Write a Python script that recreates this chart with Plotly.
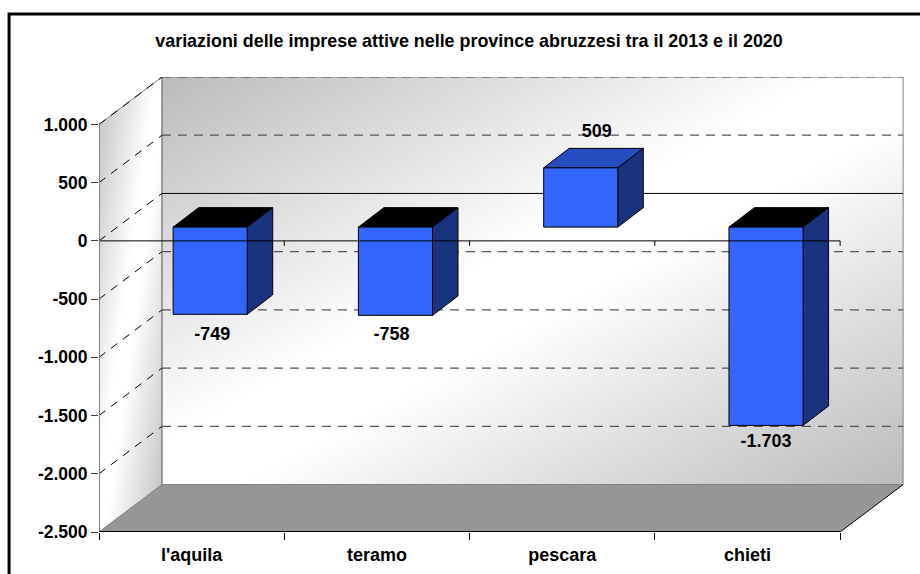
import base64
import plotly.graph_objects as go

TITLE = "variazioni delle imprese attive nelle province abruzzesi tra il 2013 e il 2020"
CATEGORIES = ["l'aquila", "teramo", "pescara", "chieti"]
VALUES = [-749, -758, 509, -1703]
VALUE_LABELS = ["-749", "-758", "509", "-1.703"]
TICK_VALUES = [1000, 500, 0, -500, -1000, -1500, -2000, -2500]
TICK_LABELS = ["1.000", "500", "0", "-500", "-1.000", "-1.500", "-2.000", "-2.500"]

# figure geometry (pixels)
W, H = 920, 574
L, R, T, B = 98.5, 16, 76.5, 42
PX_X = 185.4            # pixels per category
PX_Y = 408 / 3500       # pixels per value unit
PLOT_W, PLOT_H = W - L - R, H - T - B
Y_MIN = -2500
Y_MAX = Y_MIN + PLOT_H / PX_Y
X_MAX = PLOT_W / PX_X
N = len(CATEGORIES)

# 3D projection, in data units
WALL_DX, WALL_DY = 63 / PX_X, 47.5 / PX_Y
BAR_OFF_DY = 13.8 / PX_Y
BAR_LEFT, BAR_WIDTH = 0.4, 0.4
BAR_DX, BAR_DY = 25.5 / PX_X, 19.5 / PX_Y
# label offsets from the bar's front centre / outer end, pixels
LABEL_DX = [2, -4, 16, 0]
LABEL_DY = [-21, -20, 35, -17]

FRONT, SIDE, TOP_POS, TOP_NEG = "#3366FF", "#1A337F", "#264DBF", "#000000"
WALL_EDGE = "#808080"


def grad_svg(points, c_edge):
    pts = " ".join(f"{x:.3f},{y:.3f}" for x, y in points)
    svg = (
        '<svg xmlns="http://www.w3.org/2000/svg" width="800" height="800" '
        'viewBox="0 0 100 100" preserveAspectRatio="none">'
        '<defs><linearGradient id="g" gradientUnits="userSpaceOnUse" x1="0" y1="0" x2="100" y2="100">'
        f'<stop offset="0" stop-color="{c_edge}"/><stop offset="0.45" stop-color="#ffffff"/>'
        f'<stop offset="0.55" stop-color="#ffffff"/>'
        f'<stop offset="1" stop-color="{c_edge}"/></linearGradient></defs>'
        f'<polygon points="{pts}" fill="url(#g)"/></svg>'
    )
    return "data:image/svg+xml;base64," + base64.b64encode(svg.encode()).decode()


fig = go.Figure()


def poly(xs, ys, fill=None, color="#000000", width=1, dash="solid", name=""):
    fig.add_trace(go.Scatter(
        x=xs, y=ys, mode="lines", hoverinfo="skip", showlegend=False, name=name,
        fill="toself" if fill else None, fillcolor=fill,
        line=dict(color=color, width=width, dash=dash),
    ))


wall_bottom = Y_MIN + WALL_DY
wall_top = 1000 + WALL_DY

# floor
poly([0, N, N + WALL_DX, WALL_DX, 0], [Y_MIN, Y_MIN, wall_bottom, wall_bottom, Y_MIN],
     fill="#969696", color="rgba(0,0,0,0)", name="floor")
poly([WALL_DX, N + WALL_DX], [wall_bottom, wall_bottom], color=WALL_EDGE, name="floor back")
poly([N, N + WALL_DX], [Y_MIN, wall_bottom], color="#000000", name="floor right")
poly([0, WALL_DX], [Y_MIN, wall_bottom], color=WALL_EDGE, name="floor left")

# wall borders
poly([0, WALL_DX, N + WALL_DX, N + WALL_DX], [1000, wall_top, wall_top, wall_bottom],
     color=WALL_EDGE, name="wall top")
poly([WALL_DX, WALL_DX], [wall_top, wall_bottom], color=WALL_EDGE, width=1.5, name="wall corner")

# gridlines
for v in TICK_VALUES[:-1]:
    poly([0, WALL_DX], [v, v + WALL_DY], color="#000000", dash="8px,7px", name="side grid")
    if v == 0:
        poly([WALL_DX, N + WALL_DX], [v + WALL_DY] * 2, color="#000000", name="back zero")
    else:
        poly([WALL_DX, N + WALL_DX], [v + WALL_DY] * 2, color="#555555", width=1.2, dash="9px,7px", name="back grid")

# bars
for i, v in enumerate(VALUES):
    x0, x1 = i + BAR_LEFT, i + BAR_LEFT + BAR_WIDTH
    y0 = BAR_OFF_DY
    y1 = v + BAR_OFF_DY
    yt, yb = max(y0, y1), min(y0, y1)
    top = TOP_POS if v > 0 else TOP_NEG
    poly([x0, x1, x1 + BAR_DX, x0 + BAR_DX, x0],
         [yt, yt, yt + BAR_DY, yt + BAR_DY, yt], fill=top, name="bar top")
    poly([x1, x1 + BAR_DX, x1 + BAR_DX, x1, x1],
         [yt, yt + BAR_DY, yb + BAR_DY, yb, yt], fill=SIDE, name="bar side")
    poly([x0, x1, x1, x0, x0], [yt, yt, yb, yb, yt], fill=FRONT, name="bar front")

# front zero line with its ticks, in front of the bars
poly([0, N], [0, 0], color="#000000", name="zero line")
for i in range(1, N + 1):
    poly([i, i], [0, -5 / PX_Y], color="#000000", name="zero tick")

# left and bottom axis lines
poly([0, 0], [Y_MIN, 1000], color=WALL_EDGE, width=2, name="y axis")
poly([0, N], [Y_MIN, Y_MIN], color="#000000", width=2, name="x axis")

# value labels
fig.add_trace(go.Scatter(
    x=[i + BAR_LEFT + BAR_WIDTH / 2 + LABEL_DX[i] / PX_X for i in range(N)],
    y=[v + BAR_OFF_DY + LABEL_DY[i] / PX_Y for i, v in enumerate(VALUES)],
    mode="text", text=VALUE_LABELS, textposition="middle center",
    textfont=dict(family="Liberation Sans", size=18, color="#000000", weight="bold"),
    hoverinfo="skip", showlegend=False,
))

# wall gradients as images below the traces
back_svg = grad_svg([(0, 0), (100, 0), (100, 100), (0, 100)], "#BBBBBB")
ly = WALL_DY / (wall_top - Y_MIN) * 100
left_svg = grad_svg([(0, ly), (100, 0), (100, 100 - ly), (0, 100)], "#C0C0C0")

fig.update_layout(
    width=W, height=H, margin=dict(l=L, r=R, t=T, b=B, autoexpand=False),
    paper_bgcolor="#FFFFFF", plot_bgcolor="rgba(0,0,0,0)", showlegend=False,
    font=dict(family="Liberation Sans", size=18, color="#000000"),
    title=dict(text=TITLE, x=469 / W, xanchor="center", xref="container",
               y=1 - 41 / H, yanchor="middle", yref="container",
               font=dict(family="Liberation Sans", size=17.9, color="#000000", weight="bold")),
    xaxis=dict(
        range=[0, X_MAX], showgrid=False, zeroline=False, showline=False, automargin=False,
        tickmode="array", tickvals=[i + 0.5 for i in range(N)], ticktext=CATEGORIES,
        ticks="", ticklabelstandoff=10,
        tickfont=dict(family="Liberation Sans", size=18, weight="bold"),
        minor=dict(tickmode="array", tickvals=list(range(N + 1)), ticks="outside",
                   ticklen=7, tickwidth=1, tickcolor="#000000", showgrid=False),
    ),
    yaxis=dict(
        range=[Y_MIN, Y_MAX], showgrid=False, zeroline=False, showline=False, automargin=False,
        tickmode="array", tickvals=TICK_VALUES, ticktext=TICK_LABELS,
        ticks="outside", ticklen=7, tickwidth=1, tickcolor="#404040",
        tickfont=dict(family="Liberation Sans", size=17.5, weight="bold"),
    ),
    images=[
        dict(source=back_svg, xref="x", yref="y", x=WALL_DX, y=wall_top,
             sizex=N, sizey=wall_top - wall_bottom, sizing="stretch", layer="below"),
        dict(source=left_svg, xref="x", yref="y", x=0, y=wall_top,
             sizex=WALL_DX, sizey=wall_top - Y_MIN, sizing="stretch", layer="below"),
    ],
    shapes=[dict(
        type="rect", xref="paper", yref="paper", layer="below",
        x0=(8.5 - L) / PLOT_W, x1=(W + 10 - L) / PLOT_W,
        y0=(H - B - (H + 10)) / PLOT_H, y1=(H - B - 13.5) / PLOT_H,
        line=dict(color="#000000", width=3), fillcolor="rgba(0,0,0,0)",
    )],
)

fig.write_html("out.html", config=dict(displayModeBar=False),
               post_script="document.body.style.margin='0';document.documentElement.style.overflow='hidden';")
